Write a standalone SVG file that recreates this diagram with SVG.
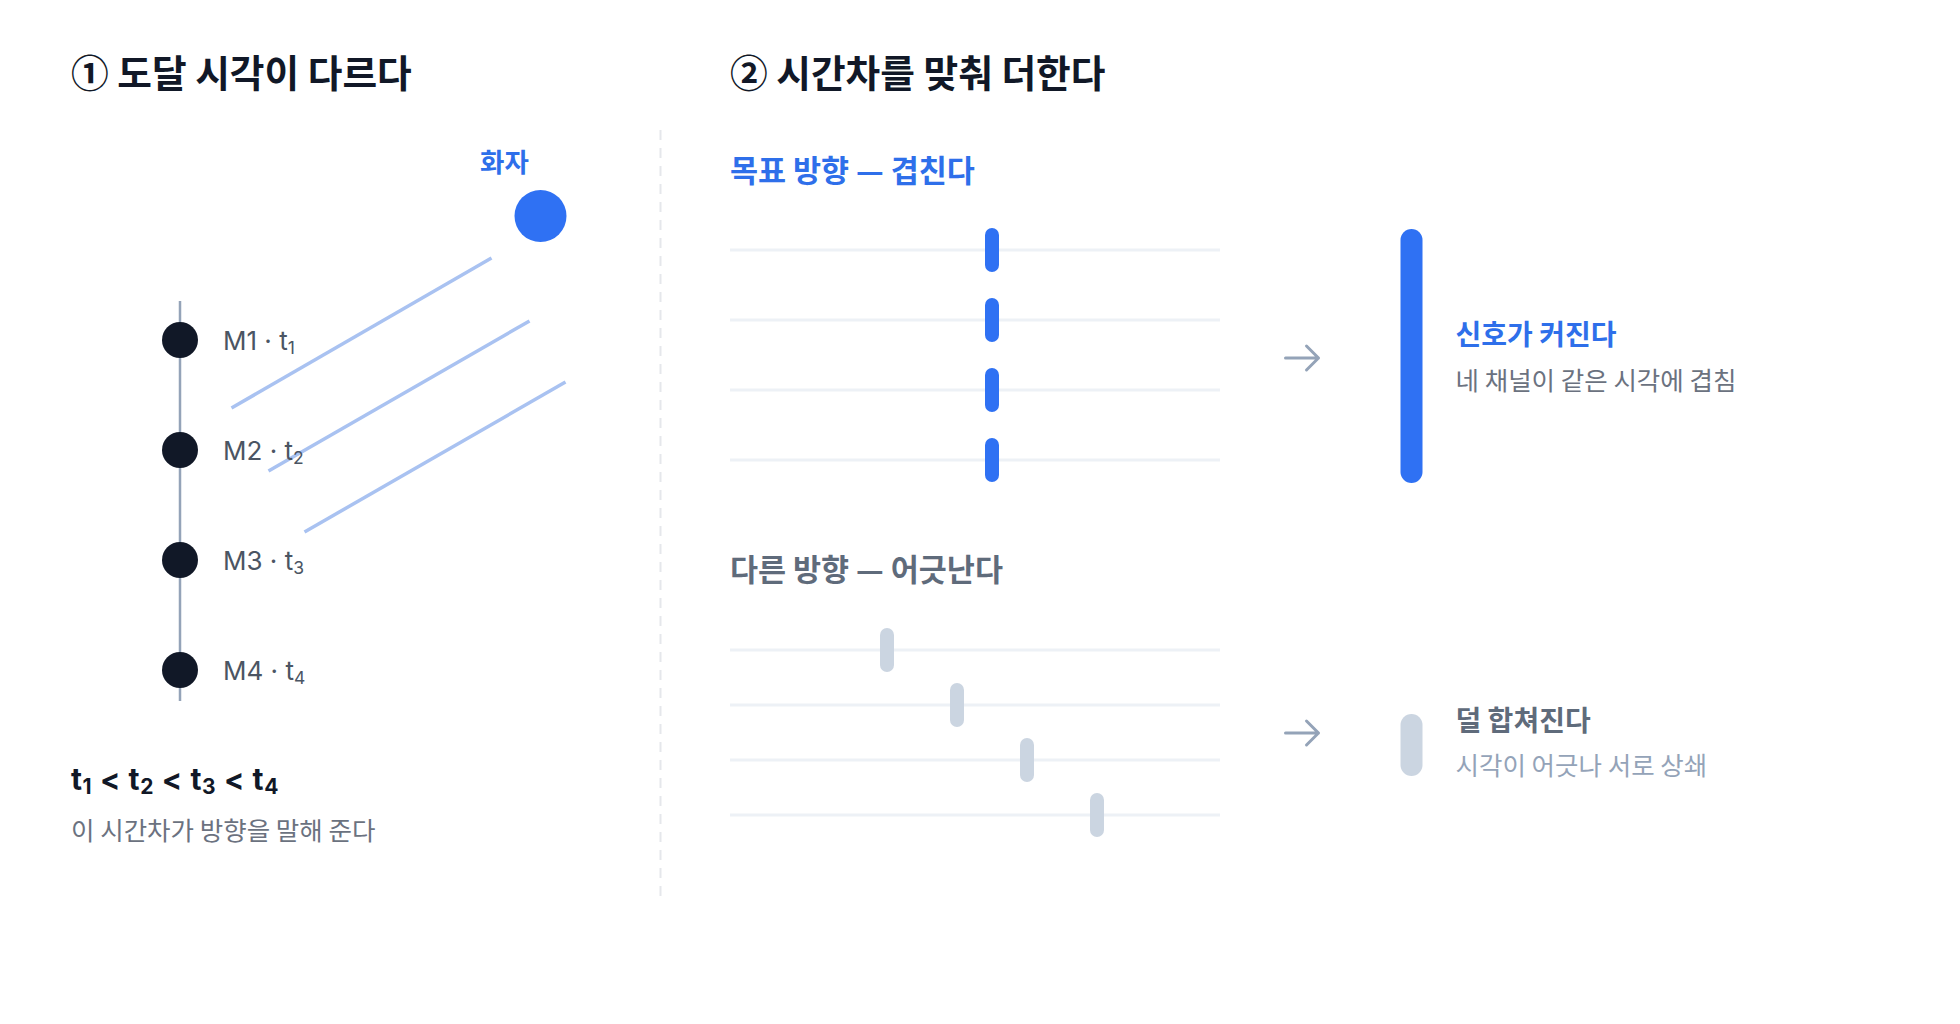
<svg xmlns="http://www.w3.org/2000/svg" width="1960" height="1024" viewBox="0 0 1960 1024">
  <defs>
    <style>
      .kr { font-family: "Noto Sans CJK KR", "Noto Sans", sans-serif; }
      .lat { font-family: Inter, "Noto Sans", "Noto Sans CJK KR", sans-serif; }
      .title { font-size: 37.7px; font-weight: 700; fill: #111827; }
      .head { font-size: 30.5px; font-weight: 700; }
      .rhead { font-size: 28px; font-weight: 700; }
      .sub { font-size: 25.5px; font-weight: 400; }
      .blue { fill: #2E6FEA; }
      .slate { fill: #5F6B7B; }
      .mlabel { font-size: 26px; fill: #4B5563; }
      .chan { stroke: #EDF1F6; stroke-width: 3; }
      .wave { stroke: #A9C2F1; stroke-width: 3.5; stroke-linecap: butt; }
      .arrow { stroke: #94A3B8; stroke-width: 3; fill: none; stroke-linecap: round; stroke-linejoin: round; }
      .mic { fill: #111827; }
      .bbar { fill: #2F71F3; }
      .gbar { fill: #CBD5E1; }
    </style>
  </defs>
  <rect width="1960" height="1024" fill="#FFFFFF"/>

  <!-- Left panel -->
  <g id="title-left">
    <text class="kr title" x="71" y="87">① 도달 시각이 다르다</text>
  </g>

  <g id="divider">
    <line x1="660.5" y1="130" x2="660.5" y2="902" stroke="#E5E7EB" stroke-width="2" stroke-dasharray="10 8"/>
  </g>

  <g id="speaker">
    <text class="kr blue" x="480" y="172" font-size="26.5" font-weight="700">화자</text>
    <circle cx="540.5" cy="216" r="26" fill="#2F71F3"/>
  </g>

  <g id="array-axis">
    <line x1="180" y1="301" x2="180" y2="701" stroke="#94A3B8" stroke-width="2.5"/>
  </g>

  <g id="connectors">
    <line class="wave" x1="491.5" y1="258" x2="231.5" y2="408"/>
    <line class="wave" x1="529.5" y1="321" x2="268.5" y2="471"/>
    <line class="wave" x1="565.5" y1="382" x2="304.5" y2="532"/>
    <path class="arrow" d="M1285.5 358 H1318.5 M1306.5 346 L1318.5 358 L1306.5 370"/>
    <path class="arrow" d="M1285.5 733 H1318.5 M1306.5 721 L1318.5 733 L1306.5 745"/>
  </g>

  <g id="mic1">
    <circle class="mic" cx="180" cy="340" r="18"/>
    <text class="lat mlabel" x="223" y="350">M1 · t<tspan font-size="17.5" dy="4">1</tspan></text>
  </g>
  <g id="mic2">
    <circle class="mic" cx="180" cy="450" r="18"/>
    <text class="lat mlabel" x="223" y="460">M2 · t<tspan font-size="17.5" dy="4">2</tspan></text>
  </g>
  <g id="mic3">
    <circle class="mic" cx="180" cy="560" r="18"/>
    <text class="lat mlabel" x="223" y="570">M3 · t<tspan font-size="17.5" dy="4">3</tspan></text>
  </g>
  <g id="mic4">
    <circle class="mic" cx="180" cy="670" r="18"/>
    <text class="lat mlabel" x="223" y="680">M4 · t<tspan font-size="17.5" dy="4">4</tspan></text>
  </g>

  <g id="caption-left">
    <text class="lat" x="71" y="790" font-size="30" font-weight="700" fill="#111827" letter-spacing="0.6">t<tspan font-size="21" dy="4">1</tspan><tspan dy="-4"> &lt; t</tspan><tspan font-size="21" dy="4">2</tspan><tspan dy="-4"> &lt; t</tspan><tspan font-size="21" dy="4">3</tspan><tspan dy="-4"> &lt; t</tspan><tspan font-size="21" dy="4">4</tspan></text>
    <text class="kr sub" x="71" y="840" fill="#6B7280">이 시간차가 방향을 말해 준다</text>
  </g>

  <!-- Right panel -->
  <g id="title-right">
    <text class="kr title" x="730" y="87">② 시간차를 맞춰 더한다</text>
  </g>

  <g id="aligned">
    <text class="kr head blue" x="730" y="182">목표 방향 — 겹친다</text>
    <line class="chan" x1="730" y1="250" x2="1220" y2="250"/>
    <line class="chan" x1="730" y1="320" x2="1220" y2="320"/>
    <line class="chan" x1="730" y1="390" x2="1220" y2="390"/>
    <line class="chan" x1="730" y1="460" x2="1220" y2="460"/>
    <rect class="bbar" x="985" y="228" width="14" height="44" rx="7"/>
    <rect class="bbar" x="985" y="298" width="14" height="44" rx="7"/>
    <rect class="bbar" x="985" y="368" width="14" height="44" rx="7"/>
    <rect class="bbar" x="985" y="438" width="14" height="44" rx="7"/>
  </g>

  <g id="result-strong">
    <rect class="bbar" x="1400.5" y="229" width="22" height="254" rx="11"/>
    <text class="kr rhead blue" x="1455.5" y="345">신호가 커진다</text>
    <text class="kr sub" x="1455.5" y="390" fill="#6B7280">네 채널이 같은 시각에 겹침</text>
  </g>

  <g id="misaligned">
    <text class="kr head slate" x="730" y="581">다른 방향 — 어긋난다</text>
    <line class="chan" x1="730" y1="650" x2="1220" y2="650"/>
    <line class="chan" x1="730" y1="705" x2="1220" y2="705"/>
    <line class="chan" x1="730" y1="760" x2="1220" y2="760"/>
    <line class="chan" x1="730" y1="815" x2="1220" y2="815"/>
    <rect class="gbar" x="880" y="628" width="14" height="44" rx="7"/>
    <rect class="gbar" x="950" y="683" width="14" height="44" rx="7"/>
    <rect class="gbar" x="1020" y="738" width="14" height="44" rx="7"/>
    <rect class="gbar" x="1090" y="793" width="14" height="44" rx="7"/>
  </g>

  <g id="result-weak">
    <rect class="gbar" x="1400.5" y="714" width="22" height="62" rx="11"/>
    <text class="kr rhead slate" x="1455.5" y="731">덜 합쳐진다</text>
    <text class="kr sub" x="1455.5" y="775" fill="#94A3B8">시각이 어긋나 서로 상쇄</text>
  </g>
</svg>
